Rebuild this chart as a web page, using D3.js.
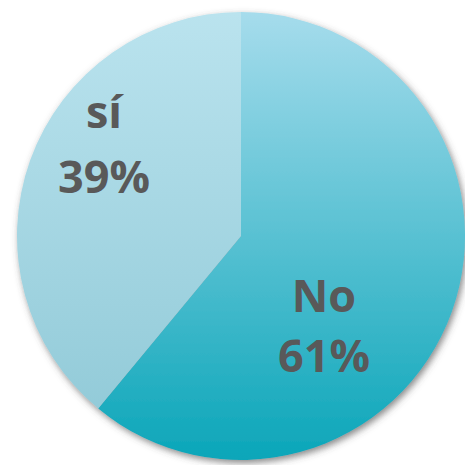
<!DOCTYPE html>
<html><head><meta charset="utf-8">
<script src="https://cdn.jsdelivr.net/npm/d3@7"></script>
<style>html,body{margin:0;padding:0;background:#fff;}svg{display:block;}</style>
</head><body>
<script>
const categories = ["No", "sí"];
const values = [61, 39];
const labels = ["61%", "39%"];

const W = 465, H = 465;
const cx = 241, cy = 236, R = 224;

const svg = d3.select("body").append("svg").attr("width", W).attr("height", H);
const defs = svg.append("defs");

const f = defs.append("filter").attr("id", "shadow").attr("x", "-10%").attr("y", "-10%").attr("width", "120%").attr("height", "120%");
f.append("feDropShadow").attr("dx", 2).attr("dy", 3).attr("stdDeviation", 3.5)
  .attr("flood-color", "#4a4a4a").attr("flood-opacity", 0.65);

const grads = {
  "No": [["0%", "#a6dcec"], ["100%", "#0ba6b9"]],
  "sí": [["0%", "#bae3ee"], ["100%", "#8ec8d6"]]
};
Object.entries(grads).forEach(([k, stops], i) => {
  const g = defs.append("linearGradient").attr("id", "g" + i)
    .attr("gradientUnits", "userSpaceOnUse")
    .attr("x1", 0).attr("y1", -R).attr("x2", 0).attr("y2", R);
  stops.forEach(s => g.append("stop").attr("offset", s[0]).attr("stop-color", s[1]));
});

const pie = d3.pie().sort(null).value(d => d)(values);
const arc = d3.arc().innerRadius(0).outerRadius(R);

const g = svg.append("g").attr("transform", `translate(${cx},${cy})`);
const slices = g.append("g").attr("filter", "url(#shadow)");
slices.selectAll("path").data(pie).enter().append("path")
  .attr("d", arc)
  .attr("fill", (d, i) => `url(#g${i})`);

// label layout: [x centre, name baseline, value baseline] relative to pie centre
const labelPos = [[83, 76, 136], [-137, -108, -43]];
const tg = g.selectAll("g.lbl").data(pie).enter().append("g")
  .attr("transform", (d, i) => `translate(${labelPos[i][0]},0)`);
tg.append("text").attr("text-anchor", "middle").attr("y", (d, i) => labelPos[i][1])
  .attr("font-family", "'Open Sans', sans-serif").attr("font-weight", 700)
  .attr("font-size", 45).attr("fill", "#595959")
  .text((d, i) => categories[i]);
tg.append("text").attr("text-anchor", "middle").attr("y", (d, i) => labelPos[i][2])
  .attr("font-family", "'Open Sans', sans-serif").attr("font-weight", 700)
  .attr("font-size", 45).attr("fill", "#595959")
  .text((d, i) => labels[i]);
</script>
</body></html>
